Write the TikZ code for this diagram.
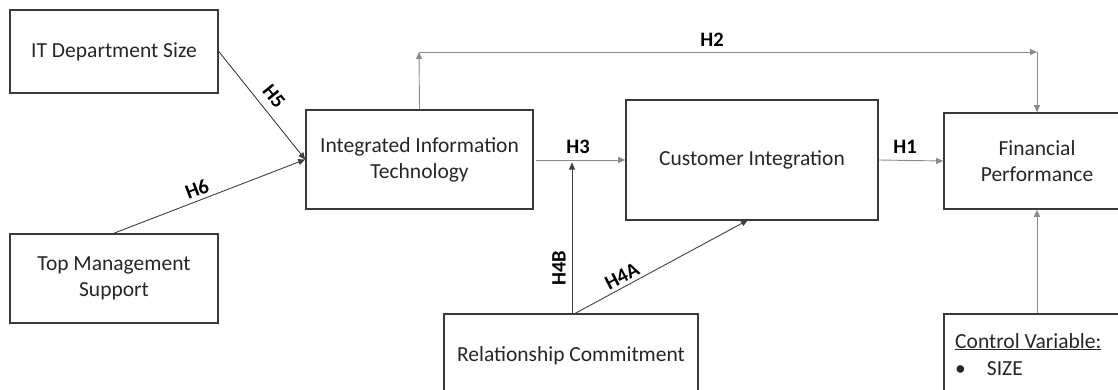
\documentclass[tikz,border=0pt]{standalone}
\usepackage{fontspec}
\setmainfont{Carlito}
\usetikzlibrary{arrows.meta}
\definecolor{boxline}{HTML}{3A3A3A}
\definecolor{darkline}{HTML}{404040}
\definecolor{lightline}{HTML}{8A8A8A}
\tikzset{
  box/.style={draw=boxline, line width=1.6pt, align=center, inner sep=0pt,
    font=\fontsize{21.5}{26}\selectfont, text=black!85},
  arr/.style={-{Triangle[length=7pt,width=6pt]}, line width=0.9pt},
  dk/.style={arr, draw=darkline},
  lt/.style={arr, draw=lightline},
  hlab/.style={font=\fontsize{20.5}{22}\selectfont\bfseries, text=black, inner sep=0pt}
}
\begin{document}
\begin{tikzpicture}[x=1pt,y=-1pt]
\useasboundingbox (0,0) rectangle (1118,389);
\clip (0,0) rectangle (1118,389);
% boxes
\node[box, minimum width=208pt, minimum height=83pt] (itd) at (114,51.5) {IT Department Size};
\node[box, minimum width=208pt, minimum height=89pt] (tms) at (114,278.5) {Top Management\\Support};
\node[box, minimum width=227pt, minimum height=99pt] (iit) at (419.5,159.5) {Integrated Information\\Technology};
\node[box, minimum width=252pt, minimum height=120pt] (ci) at (752,160) {Customer Integration};
\node[box, minimum width=186pt, minimum height=96pt] (fp) at (1037,161) {Financial\\Performance};
\node[box, minimum width=254pt, minimum height=84pt] (rc) at (571,356) {Relationship Commitment};
\node[box, minimum width=186pt, minimum height=90pt] (cv) at (1037,359) {};
\node[font=\fontsize{21.5}{26}\selectfont, text=black!85, anchor=base west, inner sep=0pt] (cvt) at (955,348) {\underline{Control Variable:}};
\node[font=\fontsize{21.5}{26}\selectfont, text=black!85, anchor=base west, inner sep=0pt] (cvb) at (955,375) {\textbullet\hspace{21pt}SIZE};
% coordinates
\coordinate (h2a) at (419,52);
\coordinate (h2b) at (1037,52);
\coordinate (h3s) at (536,160);
\coordinate (h4bt) at (572,162.5);
\coordinate (h4bs) at (572,314);
\coordinate (h4as) at (574,314);
\coordinate (h4at) at (748,220);
% connectors
\draw[dk] (itd.east) -- (iit.west);
\draw[dk] (tms.north) -- (iit.west);
\draw[lt] (iit.north) -- (h2a);
\draw[lt] (h2a) -- (h2b);
\draw[lt] (h2b) -- (fp.north);
\draw[lt] (h3s) -- (ci.west);
\draw[dk] (h4bs) -- (h4bt);
\draw[dk] (h4as) -- (h4at);
\draw[lt] (ci.east) -- (fp.west);
\draw[lt] (cv.north) -- (fp.south);
% labels
\node[hlab] (l2) at (712,40) {H2};
\node[hlab] (l3) at (578,147) {H3};
\node[hlab] (l1) at (905,147) {H1};
\node[hlab, rotate=90] (l4b) at (559,268) {H4B};
\node[hlab, rotate=27.7] (l4a) at (622,276) {H4A};
\node[hlab, rotate=-51] (l5) at (274,96) {H5};
\node[hlab, rotate=21] (l6) at (197,189) {H6};
\end{tikzpicture}
\end{document}
